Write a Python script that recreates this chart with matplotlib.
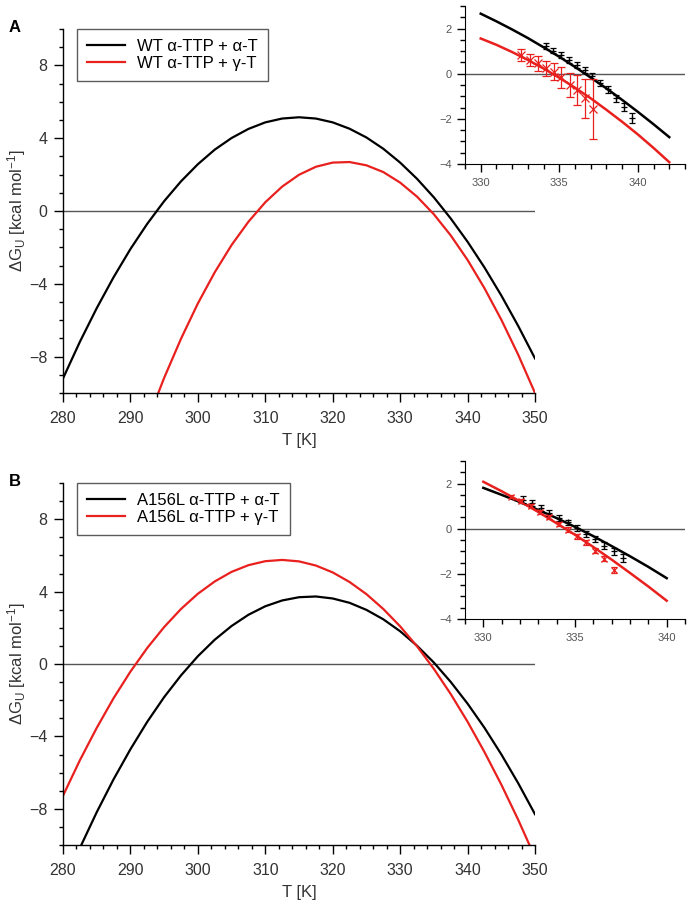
import matplotlib
matplotlib.use('Agg')
import matplotlib.pyplot as plt
from matplotlib.ticker import MultipleLocator

plt.rcParams['font.family'] = ['Liberation Sans', 'DejaVu Sans']
plt.rcParams['mathtext.fontset'] = 'custom'
plt.rcParams['mathtext.rm'] = 'Liberation Sans'
plt.rcParams['mathtext.it'] = 'Liberation Sans:italic'
plt.rcParams['mathtext.bf'] = 'Liberation Sans:bold'

RED = '#e8201e'
TXT = '#333333'

# ---------------- main curves (T in K, dG in kcal/mol) ----------------
T_main = [280, 282.5, 285, 287.5, 290, 292.5, 295, 297.5, 300, 302.5, 305, 307.5,
          310, 312.5, 315, 317.5, 320, 322.5, 325, 327.5, 330, 332.5, 335, 337.5,
          340, 342.5, 345, 347.5, 350]

wt_alpha = [-9.20, -7.19, -5.34, -3.64, -2.09, -0.70, 0.54, 1.63, 2.57, 3.37, 4.01, 4.51,
            4.87, 5.08, 5.15, 5.08, 4.87, 4.52, 4.04, 3.42, 2.66, 1.77, 0.75, -0.41,
            -1.69, -3.10, -4.64, -6.31, -8.10]

wt_gamma_T = T_main[4:]
wt_gamma = [-14.15, -11.55, -9.17, -7.02, -5.08, -3.37, -1.87, -0.59, 0.48, 1.34, 1.99,
            2.43, 2.66, 2.69, 2.51, 2.14, 1.56, 0.79, -0.18, -1.34, -2.69, -4.24,
            -5.97, -7.89, -10.00]

mut_alpha = [-12.30, -10.17, -8.19, -6.37, -4.71, -3.19, -1.83, -0.63, 0.43, 1.34, 2.10,
             2.72, 3.19, 3.51, 3.69, 3.73, 3.62, 3.38, 2.99, 2.47, 1.81, 1.01, 0.08,
             -0.99, -2.19, -3.52, -4.99, -6.58, -8.30]

mut_gamma = [-7.28, -5.32, -3.53, -1.89, -0.42, 0.89, 2.04, 3.04, 3.88, 4.56, 5.09, 5.46,
             5.68, 5.75, 5.67, 5.44, 5.06, 4.53, 3.86, 3.04, 2.08, 0.98, -0.27, -1.66,
             -3.19, -4.86, -6.66, -8.60, -10.68]

# ---------------- inset fit lines ----------------
T_insA = [330, 331, 332, 333, 334, 335, 336, 337, 338, 339, 340, 341, 342]
insA_alpha = [2.66, 2.32, 1.96, 1.58, 1.17, 0.75, 0.30, -0.17, -0.65, -1.16, -1.69, -2.24, -2.81]
insA_gamma = [1.56, 1.28, 0.96, 0.61, 0.23, -0.18, -0.62, -1.09, -1.60, -2.13, -2.69, -3.29, -3.92]

T_insB = [330, 331, 332, 333, 334, 335, 336, 337, 338, 339, 340]
insB_alpha = [1.81, 1.50, 1.18, 0.83, 0.47, 0.08, -0.33, -0.77, -1.22, -1.69, -2.19]
insB_gamma = [2.08, 1.66, 1.21, 0.74, 0.24, -0.27, -0.81, -1.37, -1.96, -2.56, -3.19]

# ---------------- inset data points ----------------
ptA_alpha_T = [334.14, 334.6, 335.14, 335.63, 336.1, 336.62, 337.1, 337.62, 338.1, 338.64, 339.13, 339.64]
ptA_alpha_G = [1.24, 1.02, 0.83, 0.61, 0.39, 0.16, -0.10, -0.40, -0.69, -1.09, -1.47, -1.98]
ptA_alpha_E = [0.13, 0.12, 0.12, 0.12, 0.12, 0.13, 0.13, 0.14, 0.15, 0.16, 0.18, 0.22]

ptA_gamma_T = [332.59, 333.12, 333.65, 334.14, 334.65, 335.14, 335.67, 336.13, 336.62, 337.15]
ptA_gamma_G = [0.83, 0.61, 0.46, 0.24, 0.09, -0.16, -0.50, -0.72, -1.09, -1.58]
ptA_gamma_E = [0.27, 0.26, 0.33, 0.33, 0.38, 0.47, 0.53, 0.67, 0.87, 1.33]

ptB_alpha_T = [332.15, 332.65, 333.15, 333.6, 334.1, 334.6, 335.09, 335.6, 336.11, 336.6, 337.11, 337.6]
ptB_alpha_G = [1.28, 1.13, 0.91, 0.69, 0.47, 0.28, 0.03, -0.22, -0.45, -0.75, -1.00, -1.29]
ptB_alpha_E = [0.15, 0.14, 0.13, 0.13, 0.12, 0.12, 0.12, 0.13, 0.13, 0.14, 0.15, 0.18]

ptB_gamma_T = [331.51, 332.06, 332.6, 333.09, 333.6, 334.1, 334.6, 335.09, 335.6, 336.11, 336.6, 337.11]
ptB_gamma_G = [1.42, 1.23, 1.01, 0.76, 0.50, 0.21, -0.04, -0.34, -0.60, -0.97, -1.32, -1.81]
ptB_gamma_E = [0.08, 0.08, 0.08, 0.09, 0.09, 0.09, 0.10, 0.10, 0.10, 0.11, 0.12, 0.13]

legendA = ['WT α-TTP + α-T', 'WT α-TTP + γ-T']
legendB = ['A156L α-TTP + α-T', 'A156L α-TTP + γ-T']
main_xticks = [280, 290, 300, 310, 320, 330, 340, 350]
main_yticks = [-8, -4, 0, 4, 8]

W, H = 692, 908
fig = plt.figure(figsize=(W / 100, H / 100), dpi=100)


def frac(l, t, r, b):
    return [l / W, 1 - b / H, (r - l) / W, (b - t) / H]


def style_main(ax):
    for s in ['top', 'right']:
        ax.spines[s].set_visible(False)
    for s in ['left', 'bottom']:
        ax.spines[s].set_linewidth(1.0)
    ax.set_xlim(280, 350)
    ax.set_ylim(-10, 10)
    ax.set_xticks(main_xticks)
    ax.set_yticks(main_yticks)
    ax.xaxis.set_minor_locator(MultipleLocator(2))
    ax.yaxis.set_minor_locator(MultipleLocator(1))
    ax.tick_params(which='major', length=6.3, width=1.0, direction='out', labelsize=11.5, labelcolor=TXT)
    ax.tick_params(which='minor', length=3.1, width=1.0, direction='out')
    ax.tick_params(axis='x', which='major', pad=7)
    ax.tick_params(axis='y', which='major', pad=5)
    ax.axhline(0, color='#555555', lw=1.0, zorder=1)
    ax.set_xlabel('T [K]', fontsize=12, color=TXT, labelpad=5)
    ax.set_ylabel('ΔG$_{\\mathrm{U}}$ [kcal mol$^{\\mathrm{-1}}$]', fontsize=12, color=TXT)
    ax.yaxis.set_label_coords(-0.075, 0.5)


def style_inset(ax, xmax):
    for s in ['top', 'right']:
        ax.spines[s].set_visible(False)
    ax.set_xlim(329, xmax)
    ax.set_ylim(-4, 3)
    ax.set_xticks([330, 335, 340])
    ax.set_yticks([-4, -2, 0, 2])
    ax.xaxis.set_minor_locator(MultipleLocator(1))
    ax.yaxis.set_minor_locator(MultipleLocator(0.5))
    ax.tick_params(which='major', length=6, width=1.0, direction='out', labelsize=8, labelcolor='#555555')
    ax.tick_params(which='minor', length=3.8, width=1.0, direction='out')
    ax.tick_params(axis='x', which='major', pad=4)
    ax.axhline(0, color='#555555', lw=1.0, zorder=1)


def make_legend(ax):
    leg = ax.legend(loc='upper left', bbox_to_anchor=(0.03, 1.0), borderaxespad=0, fontsize=12,
                    frameon=True, fancybox=False, edgecolor='#333333', handlelength=2.3,
                    handletextpad=0.7, labelspacing=0.1, borderpad=0.6)
    leg.get_frame().set_linewidth(1.0)
    return leg


# ---------------- Panel A ----------------
axA = fig.add_axes(frac(63, 29, 535, 393))
style_main(axA)
axA.plot(T_main, wt_alpha, color='black', lw=1.6, label=legendA[0])
axA.plot(wt_gamma_T, wt_gamma, color=RED, lw=1.6, label=legendA[1])
make_legend(axA)
fig.text(15 / W, 1 - 27 / H, 'A', fontsize=12, fontweight='bold', ha='center', va='center')

insA = fig.add_axes(frac(465, 6, 685, 164))
style_inset(insA, 343)
insA.plot(T_insA, insA_alpha, color='black', lw=1.8, zorder=3)
insA.plot(T_insA, insA_gamma, color=RED, lw=1.8, zorder=3)
insA.errorbar(ptA_alpha_T, ptA_alpha_G, yerr=ptA_alpha_E, fmt='+', color='black', ms=4,
              capsize=2.5, elinewidth=0.9, capthick=0.9, mew=0.9, zorder=4)
insA.errorbar(ptA_gamma_T, ptA_gamma_G, yerr=ptA_gamma_E, fmt='x', color=RED, ms=5.5,
              capsize=2.8, elinewidth=0.9, capthick=0.9, mew=0.9, zorder=4)

# ---------------- Panel B ----------------
axB = fig.add_axes(frac(63, 483, 535, 845))
style_main(axB)
axB.plot(T_main, mut_alpha, color='black', lw=1.6, label=legendB[0])
axB.plot(T_main, mut_gamma, color=RED, lw=1.6, label=legendB[1])
make_legend(axB)
fig.text(15 / W, 1 - 482 / H, 'B', fontsize=12, fontweight='bold', ha='center', va='center')

insB = fig.add_axes(frac(465, 461, 685, 619))
style_inset(insB, 341)
insB.plot(T_insB, insB_alpha, color='black', lw=1.8, zorder=3)
insB.plot(T_insB, insB_gamma, color=RED, lw=1.8, zorder=3)
insB.errorbar(ptB_alpha_T, ptB_alpha_G, yerr=ptB_alpha_E, fmt='+', color='black', ms=4,
              capsize=2.5, elinewidth=0.9, capthick=0.9, mew=0.9, zorder=4)
insB.errorbar(ptB_gamma_T, ptB_gamma_G, yerr=ptB_gamma_E, fmt='x', color=RED, ms=5,
              capsize=2.0, elinewidth=0.9, capthick=0.9, mew=0.9, zorder=5)

fig.savefig('out.png', dpi=100)
